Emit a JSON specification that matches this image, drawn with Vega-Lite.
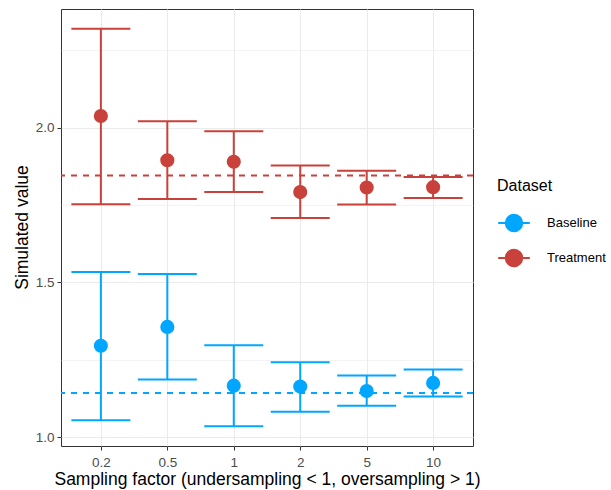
{
  "$schema": "https://vega.github.io/schema/vega-lite/v6.json",
  "width": 412,
  "height": 437,
  "autosize": {"type": "none"},
  "padding": {"left": 61, "top": 9, "right": 138, "bottom": 44},
  "background": "white",
  "config": {
    "font": "Liberation Sans",
    "view": {"stroke": "#333333", "strokeWidth": 1},
    "axis": {
      "domain": false,
      "grid": true,
      "gridColor": "#EBEBEB",
      "tickColor": "#333333",
      "tickSize": 4,
      "labelColor": "#4D4D4D",
      "labelFontSize": 13.5,
      "titleFontSize": 17.5,
      "titleFontWeight": "normal",
      "titleColor": "#000000"
    },
    "axisX": {"labelAngle": 0, "labelAlign": "center", "labelBaseline": "top", "labelPadding": 5, "titlePadding": 2, "gridWidth": 1},
    "axisY": {"labelPadding": 3}
  },
  "datasets": {
    "summary": [
      {"factor": "0.2", "dataset": "Baseline", "value": 1.295, "lower": 1.054, "upper": 1.534},
      {"factor": "0.5", "dataset": "Baseline", "value": 1.356, "lower": 1.186, "upper": 1.527},
      {"factor": "1", "dataset": "Baseline", "value": 1.166, "lower": 1.035, "upper": 1.297},
      {"factor": "2", "dataset": "Baseline", "value": 1.163, "lower": 1.082, "upper": 1.242},
      {"factor": "5", "dataset": "Baseline", "value": 1.149, "lower": 1.101, "upper": 1.199},
      {"factor": "10", "dataset": "Baseline", "value": 1.175, "lower": 1.131, "upper": 1.218},
      {"factor": "0.2", "dataset": "Treatment", "value": 2.038, "lower": 1.753, "upper": 2.320},
      {"factor": "0.5", "dataset": "Treatment", "value": 1.895, "lower": 1.770, "upper": 2.021},
      {"factor": "1", "dataset": "Treatment", "value": 1.890, "lower": 1.792, "upper": 1.989},
      {"factor": "2", "dataset": "Treatment", "value": 1.792, "lower": 1.708, "upper": 1.878},
      {"factor": "5", "dataset": "Treatment", "value": 1.807, "lower": 1.752, "upper": 1.861},
      {"factor": "10", "dataset": "Treatment", "value": 1.808, "lower": 1.773, "upper": 1.841}
    ],
    "means": [
      {"dataset": "Baseline", "mean": 1.142},
      {"dataset": "Treatment", "mean": 1.846}
    ]
  },
  "layer": [
    {
      "data": {"name": "means"},
      "mark": {"type": "rule", "strokeWidth": 2, "strokeDash": [6, 6], "opacity": 1},
      "encoding": {
        "y": {"field": "mean", "type": "quantitative"},
        "color": {"field": "dataset", "type": "nominal"}
      }
    },
    {
      "data": {"name": "summary"},
      "mark": {"type": "rule", "strokeWidth": 2, "opacity": 1},
      "encoding": {
        "x": {"field": "factor", "type": "ordinal", "sort": ["0.2", "0.5", "1", "2", "5", "10"]},
        "y": {"field": "lower", "type": "quantitative"},
        "y2": {"field": "upper"},
        "color": {"field": "dataset", "type": "nominal"}
      }
    },
    {
      "data": {"name": "summary"},
      "mark": {"type": "tick", "size": 59, "thickness": 2, "orient": "horizontal", "opacity": 1},
      "encoding": {
        "x": {"field": "factor", "type": "ordinal", "sort": ["0.2", "0.5", "1", "2", "5", "10"]},
        "y": {"field": "lower", "type": "quantitative"},
        "color": {"field": "dataset", "type": "nominal"}
      }
    },
    {
      "data": {"name": "summary"},
      "mark": {"type": "tick", "size": 59, "thickness": 2, "orient": "horizontal", "opacity": 1},
      "encoding": {
        "x": {"field": "factor", "type": "ordinal", "sort": ["0.2", "0.5", "1", "2", "5", "10"]},
        "y": {"field": "upper", "type": "quantitative"},
        "color": {"field": "dataset", "type": "nominal"}
      }
    },
    {
      "data": {"name": "summary"},
      "mark": {"type": "point", "filled": true, "opacity": 1, "size": 200, "shape": "circle"},
      "encoding": {
        "x": {
          "field": "factor",
          "type": "ordinal",
          "sort": ["0.2", "0.5", "1", "2", "5", "10"],
          "scale": {"type": "point", "padding": 0.6},
          "axis": {
            "title": "Sampling factor (undersampling < 1, oversampling > 1)"
          }
        },
        "y": {
          "field": "value",
          "type": "quantitative",
          "scale": {"domain": [0.971, 2.384], "nice": false, "zero": false},
          "axis": {
            "title": "Simulated value",
            "values": [1.0, 1.25, 1.5, 1.75, 2.0, 2.25],
            "labelExpr": "datum.value % 0.5 === 0 ? format(datum.value, '.1f') : ''",
            "gridWidth": {"condition": {"test": "datum.value % 0.5 === 0", "value": 1}, "value": 0.6},
            "tickOpacity": {"condition": {"test": "datum.value % 0.5 === 0", "value": 1}, "value": 0},
            "titleX": -30,
            "titleY": 218
          }
        },
        "color": {
          "field": "dataset",
          "type": "nominal",
          "scale": {"domain": ["Baseline", "Treatment"], "range": ["#00A6FF", "#C8413A"]},
          "legend": {
            "title": "Dataset",
            "orient": "none",
            "legendX": 436,
            "legendY": 169,
            "titleFontSize": 16,
            "titleFontWeight": "normal",
            "titleColor": "#000000",
            "titlePadding": 12,
            "labelFontSize": 13,
            "labelColor": "#000000",
            "labelOffset": 16,
            "rowPadding": 5,
            "symbolType": "M-1,0L1,0M-0.52,0A0.52,0.52,0,1,1,0.52,0A0.52,0.52,0,1,1,-0.52,0Z",
            "symbolSize": 1000,
            "symbolStrokeWidth": 2,
            "symbolOpacity": 1,
            "encode": {
              "symbols": {
                "enter": {
                  "opacity": {"value": 1},
                  "fillOpacity": {"value": 1},
                  "strokeOpacity": {"value": 1}
                },
                "update": {
                  "fill": {"scale": "color", "field": "value"},
                  "stroke": {"scale": "color", "field": "value"},
                  "strokeWidth": {"value": 2},
                  "opacity": {"value": 1},
                  "fillOpacity": {"value": 1},
                  "strokeOpacity": {"value": 1},
                  "strokeDash": {"value": []}
                }
              }
            }
          }
        }
      }
    }
  ]
}
